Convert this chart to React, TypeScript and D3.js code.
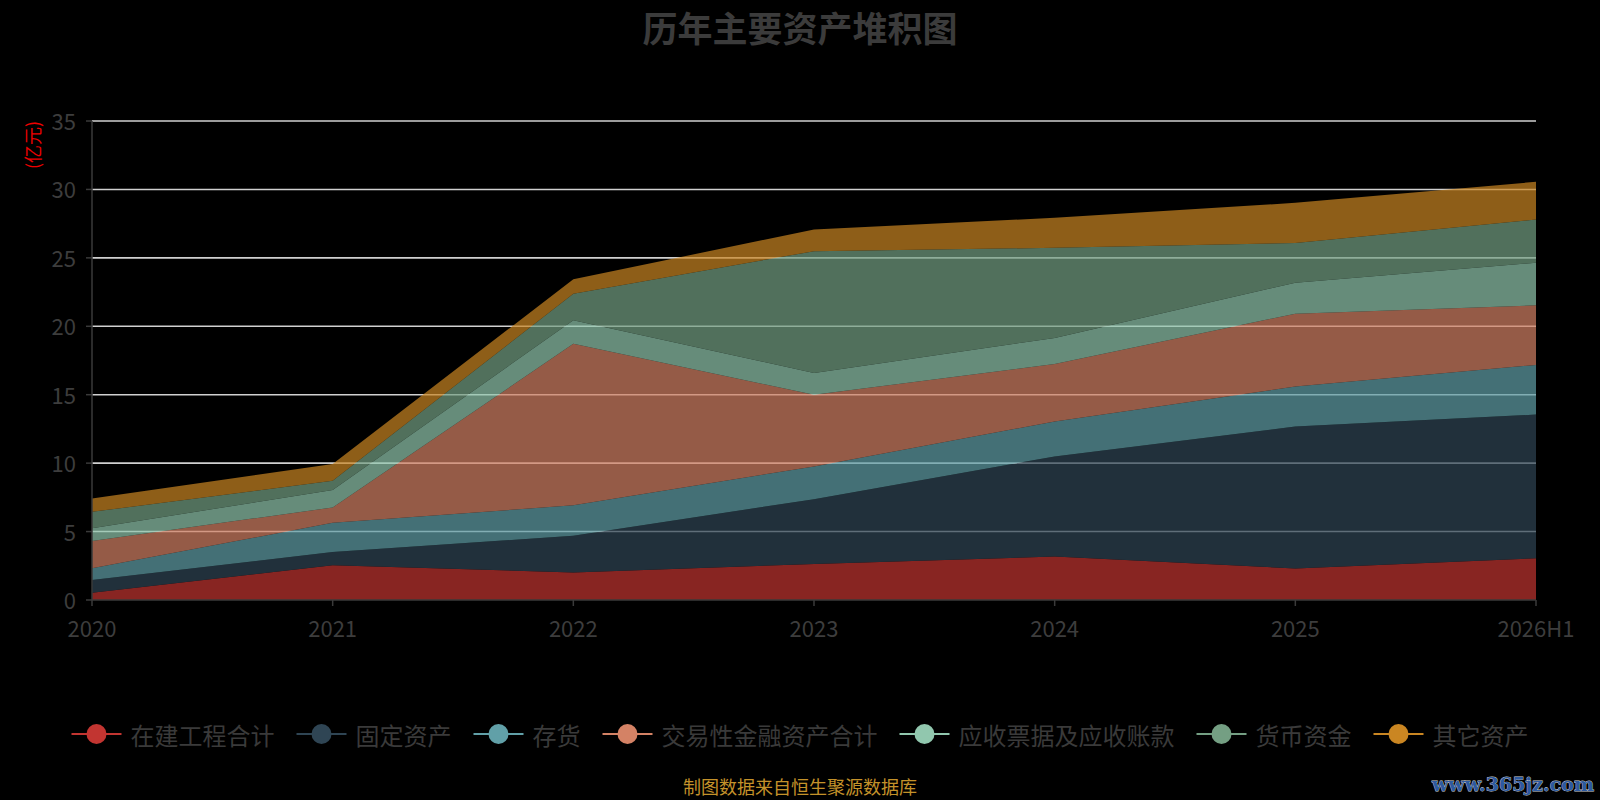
import * as d3 from "d3";

// categories and series (亿元)
const years = ["2020", "2021", "2022", "2023", "2024", "2025", "2026H1"];
const seriesNames = ["在建工程合计", "固定资产", "存货", "交易性金融资产合计", "应收票据及应收账款", "货币资金", "其它资产"];
const colors = ["#c23531", "#2f4554", "#61a0a8", "#d48265", "#91c7ae", "#749f83", "#ca8622"];

const construction = [0.53, 2.54, 2.01, 2.63, 3.17, 2.31, 3.05];
const fixedAssets = [0.93, 0.97, 2.68, 4.74, 7.32, 10.36, 10.5];
const inventory = [0.86, 2.13, 2.23, 2.39, 2.56, 2.93, 3.63];
const tradingAssets = [2.0, 1.12, 11.8, 5.24, 4.19, 5.32, 4.35];
const receivables = [0.93, 1.27, 1.72, 1.59, 1.91, 2.27, 3.12];
const cash = [1.19, 0.68, 1.94, 8.9, 6.58, 2.9, 3.15];
const otherAssets = [0.98, 1.22, 1.06, 1.58, 2.2, 2.93, 2.76];

const yTicks = [0, 5, 10, 15, 20, 25, 30, 35];

const W = 1600;
const H = 800;
const marginLeft = 92;
const marginRight = 64;
const plotTop = 121;
const plotBottom = 600;
const font = "'Noto Sans CJK SC', 'Noto Sans', sans-serif";

export default function App() {
  const allSeries = [construction, fixedAssets, inventory, tradingAssets, receivables, cash, otherAssets];
  const rows = years.map((y, i) => {
    const r: any = { year: y };
    seriesNames.forEach((n, k) => (r[n] = allSeries[k][i]));
    return r;
  });

  const stacked = d3.stack().keys(seriesNames)(rows);

  const x = d3.scalePoint(years, [marginLeft, W - marginRight]);
  const y = d3.scaleLinear([0, 35], [plotBottom, plotTop]);

  const area = d3.area<any>()
    .x((d: any) => x(d.data.year) as number)
    .y0((d: any) => y(d[0]))
    .y1((d: any) => y(d[1]));

  // legend layout
  const fs = 24;
  const iconW = 50;
  const iconGap = 9;
  const itemGap = 22;
  const widths = seriesNames.map(n => iconW + iconGap + n.length * fs);
  const total = d3.sum(widths) + itemGap * (seriesNames.length - 1);
  let cursor = W / 2 - total / 2;
  const legendItems = seriesNames.map((n, i) => {
    const item = { name: n, x: cursor, color: colors[i] };
    cursor += widths[i] + itemGap;
    return item;
  });
  const legendY = 734;

  return (
    <svg width={W} height={H} style={{ display: "block", position: "absolute", left: 0, top: 0, background: "#000" }}
      fontFamily={font}>
      <rect width={W} height={H} fill="#000" />
      <text x={W / 2} y={26} textAnchor="middle" dominantBaseline="central" fontSize={35} fontWeight="bold" fill="#3b3b3b">
        历年主要资产堆积图
      </text>

      {/* grid lines (under the areas) */}
      {yTicks.filter(t => t > 0).map(t => (
        <line key={t} x1={marginLeft} x2={W - marginRight} y1={y(t)} y2={y(t)} stroke="#d0d0d0" strokeWidth={1.6} />
      ))}

      {/* stacked areas */}
      {stacked.map((s, i) => (
        <path key={s.key} d={area(s as any) as string} fill={colors[i]} fillOpacity={0.7} />
      ))}

      {/* y axis */}
      <line x1={marginLeft} x2={marginLeft} y1={plotTop} y2={plotBottom} stroke="#3a3a3a" strokeWidth={1.5} />
      {yTicks.map(t => (
        <g key={t}>
          <line x1={marginLeft - 6} x2={marginLeft} y1={y(t)} y2={y(t)} stroke="#3a3a3a" strokeWidth={1.5} />
          <text x={marginLeft - 16} y={y(t) - 1} textAnchor="end" dominantBaseline="central" fontSize={22} fill="#3d3d3d">
            {t}
          </text>
        </g>
      ))}
      <text transform={`translate(32, 145) rotate(-90)`} textAnchor="middle" dominantBaseline="central" fontSize={18} fill="#ee0000">
        (亿元)
      </text>

      {/* x axis */}
      <line x1={marginLeft} x2={W - marginRight} y1={plotBottom} y2={plotBottom} stroke="#3a3a3a" strokeWidth={1.5} />
      {years.map(yr => (
        <g key={yr}>
          <line x1={x(yr)} x2={x(yr)} y1={plotBottom} y2={plotBottom + 6} stroke="#3a3a3a" strokeWidth={1.5} />
          <text x={x(yr)} y={627} textAnchor="middle" dominantBaseline="central" fontSize={22} fill="#3d3d3d">
            {yr}
          </text>
        </g>
      ))}

      {/* legend */}
      {legendItems.map(it => (
        <g key={it.name} transform={`translate(${it.x}, ${legendY})`}>
          <line x1={0} x2={iconW} y1={0} y2={0} stroke={it.color} strokeWidth={2} />
          <circle cx={iconW / 2} cy={0} r={10} fill={it.color} />
          <text x={iconW + iconGap} y={0} dominantBaseline="central" fontSize={fs} fill="#3a3a3a">
            {it.name}
          </text>
        </g>
      ))}

      <text x={W / 2} y={786} textAnchor="middle" dominantBaseline="central" fontSize={18} fill="#c4922a">
        制图数据来自恒生聚源数据库
      </text>
      <text x={1594} y={784} textAnchor="end" dominantBaseline="central" fontSize={19} fontWeight="bold"
        fontFamily="'DejaVu Serif', serif" fill="#2d5aa0" stroke="#cfcfcf" strokeWidth={0.8} paintOrder="stroke">
        www.365jz.com
      </text>
    </svg>
  );
}
